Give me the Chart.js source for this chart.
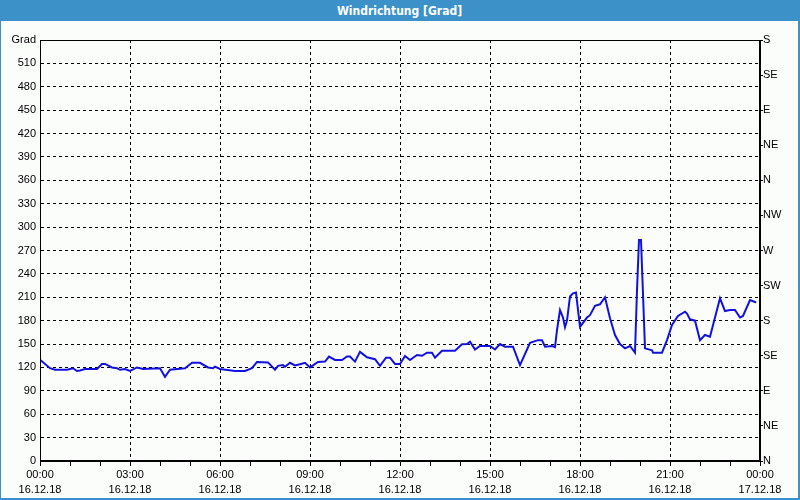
<!DOCTYPE html>
<html>
<head>
<meta charset="utf-8">
<script src="https://cdn.jsdelivr.net/npm/chart.js@4/dist/chart.umd.min.js"></script>
<style>
  html, body { margin: 0; padding: 0; background: #fff; }
  #frame { position: absolute; left: 0; top: 0; width: 797px; height: 498px;
           border-left: 1px solid #3c91c8; border-right: 2px solid #3c91c8; border-bottom: 2px solid #3c91c8;
           background: #fbfdfb; }
  #title { position: absolute; left: 0; top: 0; width: 797px; height: 21px; background: #3c91c8; color: #fff; text-align: center;
           font: bold 12px "DejaVu Sans Condensed", "Liberation Sans", sans-serif; line-height: 22px; }
  #wrap { position: absolute; left: 0; top: 20px; width: 797px; height: 478px; }
</style>
</head>
<body>
<div id="frame">
  <div id="title">Windrichtung [Grad]</div>
  <div id="wrap"><canvas id="c" width="797" height="478"></canvas></div>
</div>
<script>
// time of each reading, minutes after 00:00 on 16.12.18
const minutes = [0,20,30,54,66,74,80,90,114,124,130,144,154,160,170,180,194,206,240,250,260,290,304,320,336,346,350,360,390,410,424,434,456,470,476,486,490,500,510,520,530,540,556,570,578,590,604,614,620,630,640,654,670,680,692,700,710,720,730,740,754,764,774,784,790,804,830,844,854,860,870,880,900,910,920,930,946,960,980,996,1004,1010,1024,1030,1034,1040,1046,1050,1054,1060,1066,1072,1080,1094,1100,1110,1120,1130,1140,1150,1160,1170,1180,1190,1194,1198,1202,1210,1224,1226,1244,1254,1264,1276,1290,1294,1300,1310,1320,1330,1340,1360,1370,1380,1390,1400,1406,1420,1430,1432];
// wind direction in degrees
const direction = [130,119,117,117,119,115.5,116,118,118,124.5,124.5,120,119,117,118,115.5,120,118,119,108,117,119,126,126,120,119,121,118,115.5,115.5,119,127,126.5,117,122,123,121,126,122.5,124,126,120,127,127.5,134,129.6,129.6,134,134,127.5,140,133,130.5,122,132.5,132.5,124.5,124.5,134.7,129.6,136,135,139,139,132.5,141.5,141.5,149.7,150,153,143,147.5,147.5,143,150,146.6,146.6,123,151.7,155,155,146.6,147.5,146,168,193.7,184,171.5,180,211,215,216,172,184,187,199,201,210,183,161.6,150,144.5,147.5,139,219,283.5,283.5,144.5,142,139,139,155,174.5,186,191.5,189,181.7,180,155,161.6,159.5,208.7,192.4,193.7,193.7,184,186,206.5,204,203];

const xTickTimes = ["00:00","03:00","06:00","09:00","12:00","15:00","18:00","21:00","00:00"];
const xTickDates = ["16.12.18","16.12.18","16.12.18","16.12.18","16.12.18","16.12.18","16.12.18","16.12.18","17.12.18"];
const compassLabels = ["N","NE","E","SE","S","SW","W","NW","N","NE","E","SE","S"];
const yUnitLabel = "Grad";

const points = minutes.map((m, i) => ({ x: m, y: direction[i] }));
const font = { family: "Liberation Sans, Arial, sans-serif", size: 11 };

const framePlugin = {
  id: 'frame',
  afterDraw(chart) {
    const a = chart.chartArea, ctx = chart.ctx;
    ctx.save();
    ctx.setLineDash([]);
    ctx.strokeStyle = '#000';
    ctx.lineWidth = 1;
    ctx.strokeRect(Math.round(a.left) + 0.5, Math.round(a.top) + 0.5, Math.round(a.right - a.left) - 1, Math.round(a.bottom - a.top) - 1);
    ctx.restore();
  }
};

new Chart(document.getElementById('c'), {
  type: 'line',
  data: { datasets: [{ data: points, borderColor: '#1212dc', borderWidth: 2, pointRadius: 0, tension: 0, fill: false, yAxisID: 'y' }] },
  options: {
    responsive: false,
    animation: false,
    events: [],
    layout: { padding: { top: 20, left: 0, right: 0, bottom: 0 } },
    plugins: { legend: { display: false }, tooltip: { enabled: false }, title: { display: false } },
    scales: {
      x: {
        type: 'linear', min: 0, max: 1440,
        afterFit(s) { s.height = 37; },
        afterBuildTicks(s) { const t = []; for (let v = 0; v <= 1440; v += 60) t.push({ value: v }); s.ticks = t; },
        ticks: {
          autoSkip: false, maxRotation: 0, color: '#000', font: { ...font, lineHeight: 1.35 }, padding: 2,
          callback(v) { if (v % 180 !== 0) return ''; const i = v / 180; return [xTickTimes[i], xTickDates[i]]; }
        },
        grid: {
          color: c => (c.tick && c.tick.value % 180 === 0 && c.tick.value > 0 && c.tick.value < 1440) ? '#000' : 'rgba(0,0,0,0)',
          lineWidth: 1, tickColor: '#000', tickLength: 5, tickBorderDash: []
        },
        border: { display: true, color: '#000', dash: [3, 3] }
      },
      y: {
        position: 'left', min: 0, max: 540,
        afterFit(s) { s.width = 39; },
        afterBuildTicks(s) { const t = []; for (let v = 0; v <= 540; v += 30) t.push({ value: v }); s.ticks = t; },
        ticks: { color: '#000', font, padding: 4, autoSkip: false,
                 callback(v) { return v === 540 ? yUnitLabel : String(v); } },
        grid: { color: c => (c.tick && c.tick.value > 0 && c.tick.value < 540) ? '#000' : 'rgba(0,0,0,0)',
                drawTicks: false },
        border: { display: true, color: '#000', dash: [3, 3] }
      },
      y2: {
        position: 'right', min: 0, max: 540,
        afterFit(s) { s.width = 38; },
        afterBuildTicks(s) { const t = []; for (let v = 0; v <= 540; v += 45) t.push({ value: v }); s.ticks = t; },
        ticks: { color: '#000', font, padding: 0, autoSkip: false,
                 callback(v) { return compassLabels[Math.round(v / 45)]; } },
        grid: { drawOnChartArea: false, tickLength: 3, tickColor: '#000' },
        border: { display: true, color: '#000' }
      }
    }
  },
  plugins: [framePlugin]
});
</script>
</body>
</html>
